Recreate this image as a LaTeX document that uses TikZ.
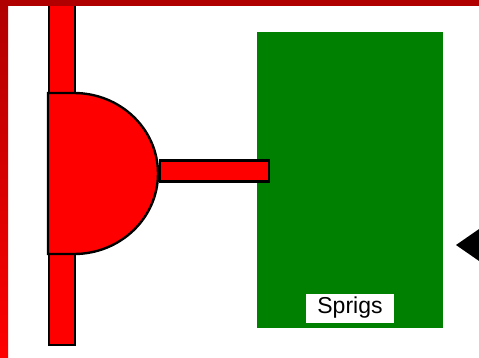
\documentclass[tikz,border=0pt]{standalone}
\usepackage{fontspec}
\setmainfont{Liberation Sans}
\definecolor{darkred}{RGB}{176,0,0}
\definecolor{brightred}{RGB}{255,0,0}
\definecolor{leafgreen}{RGB}{0,128,0}
\tikzset{
  redpart/.style={fill=brightred, draw=black, line width=2.4pt},
  labelbox/.style={fill=white, inner sep=0pt, minimum width=88pt, minimum height=29pt, font=\fontsize{23}{26}\selectfont}
}
\begin{document}
\begin{tikzpicture}[x=1pt,y=1pt]
\useasboundingbox (0,0) rectangle (479,-357);
\fill[white] (0,0) rectangle (479,-357);
% frame bars
\shade[top color=darkred, bottom color=brightred] (0,0) rectangle (8,-357);
\fill[darkred] (0,0) rectangle (479,-5.5);
% green block
\node[fill=leafgreen, inner sep=0pt, minimum width=186pt, minimum height=296pt, anchor=north west] (block) at (257,-32) {};
\node[labelbox] (label) at (350,-308) {Sprigs};
% vertical bar
\node[redpart, inner sep=0pt, minimum width=26pt, minimum height=346pt, anchor=south west] (bar) at (48,-346) {};
\fill[darkred] (46,0) rectangle (76,-5.5);
% semicircle head
\draw[redpart] (48,-93) -- (74,-93) arc[start angle=90, end angle=-90, x radius=84, y radius=80.5] -- (48,-254) -- cycle;
\coordinate (headtip) at (158,-173.5);
% stem
\node[redpart, inner sep=0pt, minimum width=109pt, minimum height=21pt, anchor=west] (stem) at (159,-171) {};
% arrow pointer at right
\begin{scope}
\clip (0,0) rectangle (479,-357);
\fill[black] (456,-245) -- (482,-227) -- (482,-263) -- cycle;
\end{scope}
\end{tikzpicture}
\end{document}
